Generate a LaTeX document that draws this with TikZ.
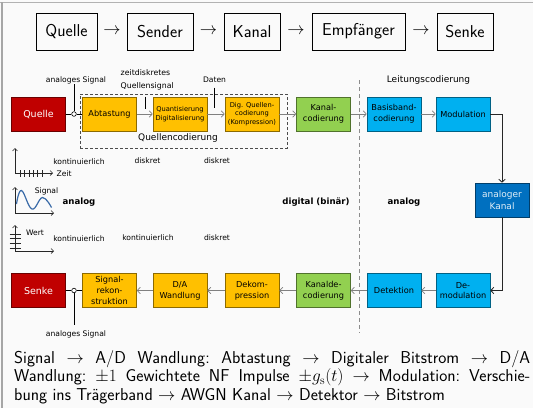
\documentclass[tikz,border=0pt]{standalone}
\usepackage{fontspec}
\newfontfamily\dv{DejaVu Sans}
\usetikzlibrary{arrows.meta}
\definecolor{qred}{HTML}{C00000}
\definecolor{qorange}{HTML}{FFC000}
\definecolor{qgreen}{HTML}{92D050}
\definecolor{qcyan}{HTML}{00B0F0}
\definecolor{qblue}{HTML}{0070C0}
\definecolor{wavec}{HTML}{3A6BA8}
\tikzset{
  topbox/.style={draw=black, line width=0.7pt, minimum height=37pt, inner sep=0pt, font=\sffamily\fontsize{17.2}{18}\selectfont},
  toparr/.style={inner sep=0pt, font=\fontsize{17.2}{18}\selectfont},
  blk/.style={draw=#1!55!black, fill=#1, line width=0.6pt, minimum width=54pt, minimum height=34pt, inner sep=0pt, align=center, font=\dv\fontsize{8.2}{10.8}\selectfont},
  smallblk/.style={font=\dv\fontsize{6.7}{8.4}\selectfont},
  lbl/.style={inner sep=0pt, font=\dv\fontsize{7.6}{9}\selectfont},
  biglbl/.style={inner sep=0pt, font=\dv\fontsize{9}{11}\selectfont},
  boldlbl/.style={inner sep=0pt, font=\dv\bfseries\fontsize{8.6}{10}\selectfont},
  garrow/.style={draw=black!50, line width=0.7pt, -{Straight Barb[length=3pt,width=6.5pt]}},
  karrow/.style={draw=black!85, line width=0.8pt, -{Straight Barb[length=3pt,width=6.5pt]}},
  bline/.style={draw=black, line width=0.8pt},
  axis/.style={draw=black!85, line width=0.6pt, {Straight Barb[length=2.5pt,width=5pt]}-{Straight Barb[length=2.5pt,width=5pt]}},
  tick/.style={draw=black!85, line width=0.6pt},
  pin/.style={circle, draw=black, fill=white, inner sep=0pt, minimum size=4.6pt, line width=0.6pt},
  bottomtxt/.style={inner sep=0pt, anchor=base west, font=\sffamily\fontsize{17.2}{18.5}\selectfont\frenchspacing},
}
\begin{document}
\begin{tikzpicture}[x=1pt,y=-1pt]
\useasboundingbox (0,0) rectangle (533,408);
\fill[black!2] (0,0) rectangle (533,408);
\draw[black!30, line width=1pt] (0,2) -- (533,2);
\draw[black!35, line width=2.2pt] (1.6,2) -- (1.6,408);

% top row
\node[topbox, minimum width=61pt] (tq) at (66.5,31.5) {Quelle};
\node[topbox, minimum width=66pt] (ts) at (160,31.5) {Sender};
\node[topbox, minimum width=56pt] (tk) at (252,31.5) {Kanal};
\node[topbox, minimum width=93pt] (te) at (358.5,31.5) {Empfänger};
\node[topbox, minimum width=56pt] (tz) at (465,31.5) {Senke};
\node[toparr] (a1) at (112,31.5) {$\rightarrow$};
\node[toparr] (a2) at (208.5,31.5) {$\rightarrow$};
\node[toparr] (a3) at (296,31.5) {$\rightarrow$};
\node[toparr] (a4) at (421,31.5) {$\rightarrow$};

% dashed group and divider
\node[draw=black!70, dashed, dash pattern=on 3pt off 2pt, line width=0.7pt, minimum width=207pt, minimum height=54pt, inner sep=0pt] (qcbox) at (183.5,121) {};
\coordinate (divtop) at (359,80);
\coordinate (divbot) at (359,333);
\draw[black!45, line width=0.8pt, dash pattern=on 4pt off 3pt] (divtop) -- (divbot);

% upper chain
\node[blk=qred, text=white, font=\dv\fontsize{9.5}{11}\selectfont] (quelle) at (38.5,114) {Quelle};
\node[blk=qorange] (abt) at (109.5,114) {Abtastung};
\node[blk=qorange, smallblk] (quant) at (180,114) {Quantisierung\\Digitalisierung};
\node[blk=qorange, smallblk] (dig) at (252,114) {Dig. Quellen-\\codierung\\(Kompression)};
\node[blk=qgreen] (kc) at (323.5,114) {Kanal-\\codierung};
\node[blk=qcyan] (bb) at (394,114) {Basisband-\\codierung};
\node[blk=qcyan] (mod) at (463,114) {Modulation};
\node[blk=qblue, text=white!88!qblue, font=\dv\fontsize{9}{11.5}\selectfont] (kanal) at (502,200) {analoger\\Kanal};

% lower chain
\node[blk=qcyan] (demod) at (463,290.5) {De-\\modulation};
\node[blk=qcyan] (det) at (394,290.5) {Detektion};
\node[blk=qgreen] (kd) at (323.5,290.5) {Kanalde-\\codierung};
\node[blk=qorange] (dek) at (252,290.5) {Dekom-\\pression};
\node[blk=qorange] (da) at (180,290.5) {D/A\\Wandlung};
\node[blk=qorange] (rek) at (109.5,290.5) {Signal-\\rekon-\\struktion};
\node[blk=qred, text=white, font=\dv\fontsize{9.5}{11}\selectfont] (senke) at (38.5,290.5) {Senke};

% pins
\node[pin] (p1) at (74,114) {};
\node[pin] (p2) at (74,290.5) {};
\draw[bline] (quelle) -- (p1);
\draw[bline] (p1) -- (abt);
\draw[bline] (senke) -- (p2);
\draw[bline] (p2) -- (rek);

% labels with pointers
\node[lbl] (las1) at (76,80) {analoges Signal};
\coordinate (las1p) at (74,84);
\draw[bline] (las1p) -- (p1);
\node[lbl] (las2) at (76,334) {analoges Signal};
\coordinate (las2p) at (74,325);
\draw[bline] (p2) -- (las2p);
\node[lbl, anchor=west, align=left, font=\dv\fontsize{7.8}{12.8}\selectfont] (zd) at (120.5,79.5) {zeitdiskretes\\Quellensignal};
\coordinate (zd1) at (145.7,96.7);
\coordinate (zd2) at (145.7,109.3);
\draw[bline] (zd1) -- (zd2);
\node[lbl] (daten) at (214.5,80) {Daten};
\coordinate (dt1) at (214.3,87.7);
\coordinate (dt2) at (214.3,108.3);
\draw[bline] (dt1) -- (dt2);
\node[biglbl] (qcl) at (178,138.5) {Quellencodierung};
\node[biglbl] (lcl) at (428.5,80) {Leitungscodierung};

% arrows upper
\draw[garrow] (abt) -- (quant);
\draw[garrow] (quant) -- (dig);
\draw[garrow] (dig) -- (kc);
\draw[garrow] (kc) -- (bb);
\draw[garrow] (bb) -- (mod);
\draw[karrow] (mod.east) -| (kanal.north);
\draw[karrow] (kanal.south) |- (demod.east);
% arrows lower
\draw[garrow] (demod) -- (det);
\draw[garrow] (det) -- (kd);
\draw[garrow] (kd) -- (dek);
\draw[garrow] (dek) -- (da);
\draw[garrow] (da) -- (rek);

% axis 1 (Zeit)
\coordinate (ax1t) at (15,148);
\coordinate (ax1o) at (15,173);
\coordinate (ax1r) at (53,173);
\draw[axis] (ax1t) -- (ax1o) -- (ax1r);
\foreach \i in {0,...,5} \draw[tick] (20+\i*4.4,170) -- (20+\i*4.4,176.5);
\node[lbl, anchor=west] (zeit) at (56.5,174) {Zeit};
\node[lbl] (k1) at (79,162) {kontinuierlich};
\node[lbl] (d1) at (147.5,161) {diskret};
\node[lbl] (d2) at (217,161) {diskret};

% axis 2 (Signal)
\coordinate (ax2t) at (15,187);
\coordinate (ax2o) at (15,213);
\coordinate (ax2r) at (54,213);
\draw[axis] (ax2t) -- (ax2o) -- (ax2r);
\draw[wavec, line width=1.2pt] plot[smooth, tension=0.7] coordinates {(16.5,204) (21.5,190.5) (32,209) (42.5,197.5) (51.5,207.5)};
\node[lbl] (sig) at (46.5,191.5) {Signal};
\node[boldlbl] (an1) at (79,202) {analog};
\node[boldlbl] (dig2) at (316,202) {digital (binär)};
\node[boldlbl] (an2) at (404,202) {analog};

% axis 3 (Wert)
\coordinate (ax3t) at (15,225);
\coordinate (ax3o) at (15,251);
\coordinate (ax3r) at (54,251);
\draw[axis] (ax3t) -- (ax3o) -- (ax3r);
\foreach \i in {0,...,3} \draw[tick] (9.5,234+\i*4.6) -- (20.5,234+\i*4.6);
\node[lbl] (wert) at (35,232.5) {Wert};
\node[lbl] (k2) at (79,239) {kontinuierlich};
\node[lbl] (k3) at (148,238) {kontinuierlich};
\node[lbl] (d3) at (217,238) {diskret};

% bottom text
\node[bottomtxt] (l1) at (14,363) {\makebox[516pt][s]{Signal $\rightarrow$ A/D Wandlung: Abtastung $\rightarrow$ Digitaler Bitstrom $\rightarrow$ D/A}};
\node[bottomtxt] (l2) at (14,381.5) {\makebox[516pt][s]{Wandlung: $\pm1$ Gewichtete NF Impulse $\pm g_{\mathrm{s}}(t)$ $\rightarrow$ Modulation: Verschie-}};
\node[bottomtxt] (l3) at (14,400) {bung ins Trägerband $\rightarrow$ AWGN Kanal $\rightarrow$ Detektor $\rightarrow$ Bitstrom};
\end{tikzpicture}
\end{document}
